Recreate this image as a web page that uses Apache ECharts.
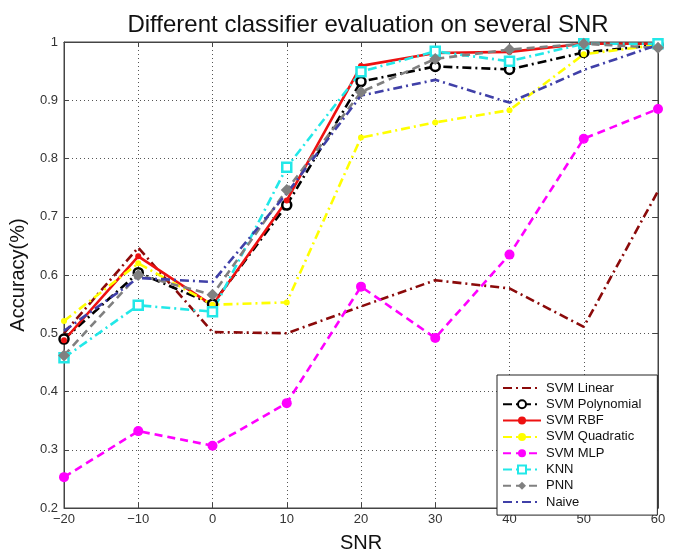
<!DOCTYPE html>
<html>
<head>
<meta charset="utf-8">
<script src="https://cdn.jsdelivr.net/npm/echarts@6/dist/echarts.min.js"></script>
<style>
html, body { margin: 0; padding: 0; background: #fff; }
#main { width: 675px; height: 558px; }
</style>
</head>
<body>
<div id="main"></div>
<script>
// SNR values (x axis)
var snr = [-20, -10, 0, 10, 20, 30, 40, 50, 60];

// accuracy for each classifier
var svmLinear     = [0.500, 0.647, 0.502, 0.500, 0.546, 0.591, 0.577, 0.511, 0.744];
var svmPolynomial = [0.490, 0.604, 0.550, 0.720, 0.932, 0.958, 0.953, 0.982, 0.995];
var svmRBF        = [0.488, 0.632, 0.548, 0.728, 0.959, 0.981, 0.983, 0.997, 0.997];
var svmQuadratic  = [0.521, 0.620, 0.549, 0.553, 0.836, 0.862, 0.883, 0.979, 0.995];
var svmMLP        = [0.253, 0.332, 0.307, 0.380, 0.580, 0.492, 0.635, 0.834, 0.885];
var knn           = [0.458, 0.548, 0.537, 0.785, 0.949, 0.984, 0.967, 0.997, 0.997];
var pnn           = [0.462, 0.600, 0.566, 0.746, 0.914, 0.971, 0.987, 0.997, 0.990];
var naive         = [0.504, 0.595, 0.588, 0.740, 0.908, 0.935, 0.896, 0.952, 0.995];

var names = ['SVM Linear', 'SVM Polynomial', 'SVM RBF', 'SVM Quadratic', 'SVM MLP', 'KNN', 'PNN', 'Naive'];

function pairs(vals) {
    return snr.map(function (x, i) { return [x, vals[i]]; });
}

var font = 'Liberation Sans, Arial, sans-serif';
var dashDot = [9, 4, 2, 4];
var dashed = [8, 5];

// symbol null = line only (no marker, also none in the legend)
function makeSeries(name, vals, color, type, symbol, size, fill) {
    return {
        name: name,
        type: 'line',
        data: pairs(vals),
        symbol: symbol || 'circle',
        symbolSize: size,
        showSymbol: !!symbol,
        animation: false,
        lineStyle: { color: color, width: 2.6, type: type },
        itemStyle: symbol ?
            { color: fill || color, borderColor: color, borderWidth: fill ? 2.5 : 0 } :
            { color: 'rgba(0,0,0,0)', borderWidth: 0 },
        emphasis: { disabled: true }
    };
}

var chart = echarts.init(document.getElementById('main'));
var option = {
    backgroundColor: '#fff',
    textStyle: { fontFamily: font },
    title: {
        text: 'Different classifier evaluation on several SNR',
        left: 363,
        textAlign: 'center',
        top: 8,
        textStyle: { fontFamily: font, fontSize: 24, fontWeight: 'normal', color: '#111' }
    },
    grid: {
        left: 62, right: 17, top: 42, bottom: 40,
        show: true, borderColor: '#444', borderWidth: 1
    },
    legend: {
        orient: 'vertical',
        left: 497,
        top: 375,
        data: names,
        itemWidth: 38,
        itemHeight: 10,
        itemGap: 2.3,
        padding: [6, 16, 6, 5],
        borderColor: '#222',
        borderWidth: 1,
        backgroundColor: '#fff',
        textStyle: { fontFamily: font, fontSize: 13, lineHeight: 14, color: '#111' }
    },
    xAxis: [{
        type: 'value',
        min: -20, max: 60, interval: 10,
        name: 'SNR',
        nameLocation: 'middle',
        nameGap: 25,
        nameTextStyle: { fontFamily: font, fontSize: 20, color: '#111' },
        axisLine: { onZero: false, lineStyle: { color: '#444', width: 1 } },
        axisTick: { inside: true, length: 5, lineStyle: { color: '#444' } },
        axisLabel: { color: '#333', fontSize: 13, margin: 5,
            formatter: function (v) { return v < 0 ? '\u2212' + (-v) : v; } },
        splitLine: { show: true, lineStyle: { color: '#555', type: [1, 3], width: 1 } }
    }, {
        type: 'value', position: 'top',
        min: -20, max: 60, interval: 10,
        axisLine: { show: true, onZero: false, lineStyle: { color: '#444' } },
        axisTick: { inside: true, length: 5, lineStyle: { color: '#444' } },
        axisLabel: { show: false },
        splitLine: { show: false }
    }],
    yAxis: [{
        type: 'value',
        min: 0.2, max: 1, interval: 0.1,
        name: 'Accuracy(%)',
        nameLocation: 'middle',
        nameGap: 36,
        nameTextStyle: { fontFamily: font, fontSize: 20, color: '#111' },
        axisLine: { show: true, onZero: false, lineStyle: { color: '#444', width: 1 } },
        axisTick: { show: true, inside: true, length: 5, lineStyle: { color: '#444' } },
        axisLabel: { color: '#333', fontSize: 13, margin: 6,
            formatter: function (v) { return Math.round(v * 10) / 10; } },
        splitLine: { show: true, lineStyle: { color: '#555', type: [1, 3], width: 1 } }
    }, {
        type: 'value', position: 'right',
        min: 0.2, max: 1, interval: 0.1,
        axisLine: { show: true, onZero: false, lineStyle: { color: '#444' } },
        axisTick: { show: true, inside: true, length: 5, lineStyle: { color: '#444' } },
        axisLabel: { show: false },
        splitLine: { show: false }
    }],
    series: [
        makeSeries(names[0], svmLinear, '#8b0a0a', dashDot, null, 0),
        makeSeries(names[1], svmPolynomial, '#000000', dashDot, 'circle', 9, '#ffffff'),
        makeSeries(names[2], svmRBF, '#ee1111', 'solid', 'circle', 6),
        makeSeries(names[3], svmQuadratic, '#ffff00', dashDot, 'circle', 6),
        makeSeries(names[4], svmMLP, '#ff00ff', dashed, 'circle', 10),
        makeSeries(names[5], knn, '#22e8e8', dashDot, 'rect', 9, '#ffffff'),
        makeSeries(names[6], pnn, '#808080', dashed, 'diamond', 12),
        makeSeries(names[7], naive, '#4040a8', dashDot, null, 0)
    ]
};
chart.setOption(option);
</script>
</body>
</html>
